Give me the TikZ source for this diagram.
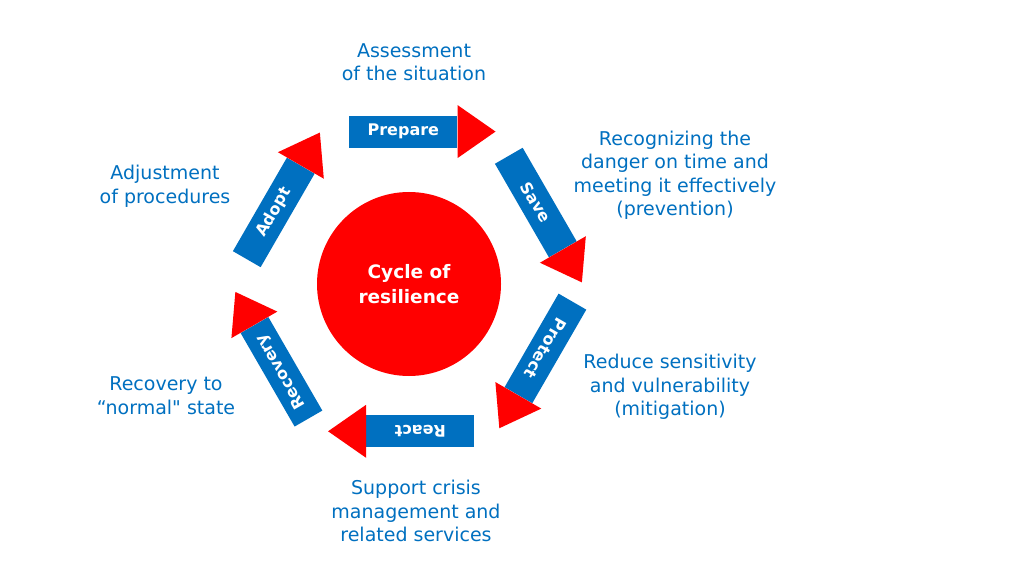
\documentclass[tikz,border=0pt]{standalone}
\usepackage{fontspec}
\setmainfont{DejaVu Sans}[Ligatures=TeXOff]
\usetikzlibrary{calc}
\definecolor{cycleblue}{HTML}{0070C0}
\definecolor{cyclered}{HTML}{FF0000}
\tikzset{
    note/.style={text=cycleblue, align=center, inner sep=0, font=\fontsize{19}{23.5}\selectfont},
    body/.style={fill=cycleblue, text=white, minimum width=108, minimum height=32, inner sep=0,
        font=\bfseries\fontsize{16}{19}\selectfont},
    hub/.style={circle, fill=cyclered, text=white, minimum size=184, inner sep=0, align=center,
        font=\bfseries\fontsize{18.5}{25}\selectfont}
}

\begin{document}
\begin{tikzpicture}[x=1pt, y=1pt]

    \useasboundingbox (0,0) rectangle (1024,576);
    \fill[white] (0,0) rectangle (1024,576);

    \node[hub] (hub) at (409,292) {Cycle of\\resilience};

    % arrows round the circle: name / angle / distance
    \foreach \name/\pos/\dist [count=\i from 0] in
        {Prepare/85/153, Save/25.5/151, Protect/-32.5/150.5, React/267/147.5, Recovery/207.5/154.5, Adopt/145/153.5}
    {
        \pgfmathsetmacro{\rot}{-60*\i}
        \pgfmathsetmacro{\back}{\rot+180}
        \node[body, rotate=\rot] (b\i) at ($(hub.center)+(\pos:\dist)+(\back:19)$) {\name};
        \fill[cyclered] ($(b\i.east)!26.5pt!90:(b\i.west)$) -- ($(b\i.east)!-38pt!(b\i.west)$)
            -- ($(b\i.east)!26.5pt!-90:(b\i.west)$) -- cycle;
    }

    \node[note] (assess) at (414,514) {Assessment\\of the situation};
    \node[note] (prevent) at (675,400.5) {Recognizing the\\danger on time and\\meeting it effectively\\(prevention)};
    \node[note] (mitigate) at (670,189) {Reduce sensitivity\\and vulnerability\\(mitigation)};
    \node[note] (support) at (416,65) {Support crisis\\management and\\related services};
    \node[note] (recover) at (166,180.5) {Recovery to\\“normal" state};
    \node[note] (adjust) at (165,389.5) {Adjustment\\of procedures};

\end{tikzpicture}
\end{document}
